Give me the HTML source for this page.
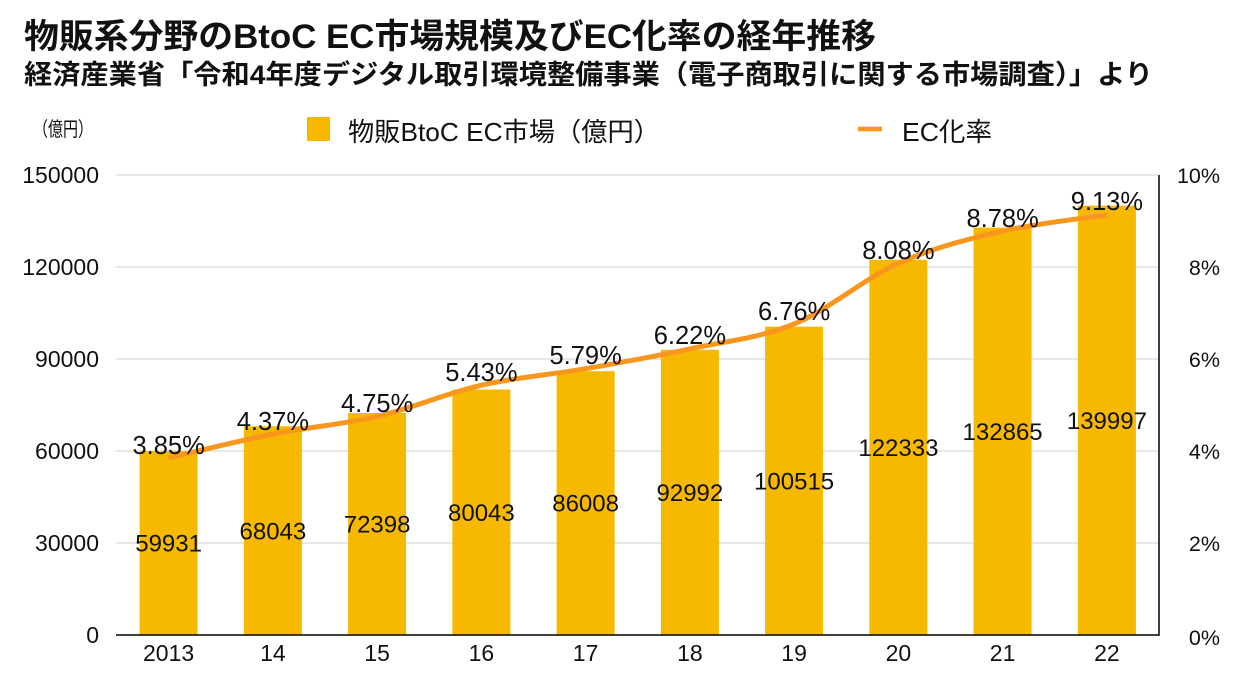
<!DOCTYPE html>
<html>
<head>
<meta charset="utf-8">
<style>
html,body{margin:0;padding:0;background:#fff;}
svg{display:block;}
text{font-family:"Liberation Sans","Noto Sans CJK JP",sans-serif;fill:#111;}
</style>
</head>
<body>
<svg width="1240" height="682" viewBox="0 0 1240 682" xmlns="http://www.w3.org/2000/svg">
<rect width="1240" height="682" fill="#fff"/>
<!-- Titles -->
<text x="24" y="48" font-size="34" font-weight="bold" textLength="852" lengthAdjust="spacingAndGlyphs">物販系分野のBtoC EC市場規模及びEC化率の経年推移</text>
<text x="24" y="84" font-size="27" font-weight="bold" textLength="1129" lengthAdjust="spacingAndGlyphs">経済産業省「令和4年度デジタル取引環境整備事業（電子商取引に関する市場調査）」より</text>

<!-- unit -->
<text x="33" y="136" font-size="20" textLength="60" lengthAdjust="spacingAndGlyphs">（億円）</text>

<!-- legend -->
<rect x="307" y="117" width="23" height="24" fill="#F6B900"/>
<text x="348" y="141" font-size="26" textLength="312" lengthAdjust="spacingAndGlyphs">物販BtoC EC市場（億円）</text>
<line x1="858" y1="129" x2="882" y2="129" stroke="#F8961E" stroke-width="4.5"/>
<text x="902" y="141" font-size="26" textLength="90" lengthAdjust="spacingAndGlyphs">EC化率</text>

<!-- gridlines -->
<g stroke="#d9d9d9" stroke-width="1.2">
<line x1="116" y1="175" x2="1159" y2="175"/>
<line x1="116" y1="267" x2="1159" y2="267"/>
<line x1="116" y1="359" x2="1159" y2="359"/>
<line x1="116" y1="451" x2="1159" y2="451"/>
<line x1="116" y1="543" x2="1159" y2="543"/>
</g>

<!-- left ticks -->
<g font-size="23" text-anchor="end">
<text x="99" y="183">150000</text>
<text x="99" y="275">120000</text>
<text x="99" y="367">90000</text>
<text x="99" y="459">60000</text>
<text x="99" y="551">30000</text>
<text x="99" y="643">0</text>
</g>
<!-- right ticks -->
<g font-size="21.5" text-anchor="end">
<text x="1220" y="183">10%</text>
<text x="1220" y="275">8%</text>
<text x="1220" y="367">6%</text>
<text x="1220" y="459">4%</text>
<text x="1220" y="551">2%</text>
<text x="1220" y="645">0%</text>
</g>

<!-- bars -->
<g fill="#F6B900">
<rect x="139.6" y="451.2" width="58" height="183.8"/>
<rect x="243.9" y="426.3" width="58" height="208.7"/>
<rect x="348.1" y="413.0" width="58" height="222.0"/>
<rect x="452.4" y="389.5" width="58" height="245.5"/>
<rect x="556.6" y="371.2" width="58" height="263.8"/>
<rect x="660.9" y="349.8" width="58" height="285.2"/>
<rect x="765.1" y="326.7" width="58" height="308.3"/>
<rect x="869.4" y="259.8" width="58" height="375.2"/>
<rect x="973.6" y="227.6" width="58" height="407.4"/>
<rect x="1077.9" y="205.7" width="58" height="429.3"/>
</g>

<!-- axes -->
<line x1="116" y1="635" x2="1159.5" y2="635" stroke="#000" stroke-width="1.5"/>
<line x1="1159" y1="175" x2="1159" y2="635.7" stroke="#000" stroke-width="1.5"/>

<!-- x labels -->
<g font-size="23" text-anchor="middle">
<text x="168.6" y="661">2013</text>
<text x="272.9" y="661">14</text>
<text x="377.1" y="661">15</text>
<text x="481.4" y="661">16</text>
<text x="585.6" y="661">17</text>
<text x="689.9" y="661">18</text>
<text x="794.1" y="661">19</text>
<text x="898.4" y="661">20</text>
<text x="1002.6" y="661">21</text>
<text x="1106.9" y="661">22</text>
</g>

<!-- value labels -->
<g font-size="24" text-anchor="middle">
<text x="168.6" y="551.7">59931</text>
<text x="272.9" y="539.3">68043</text>
<text x="377.1" y="532.6">72398</text>
<text x="481.4" y="520.9">80043</text>
<text x="585.6" y="511.7">86008</text>
<text x="689.9" y="501.0">92992</text>
<text x="794.1" y="489.5">100515</text>
<text x="898.4" y="456.0">122333</text>
<text x="1002.6" y="439.9">132865</text>
<text x="1106.9" y="428.9">139997</text>
</g>

<!-- line -->
<path d="M168.6,457.9 C186.0,453.9 238.15,440.9 272.9,434.0 C307.65,427.1 342.35,424.63 377.1,416.5 C411.85,408.37 446.65,393.17 481.4,385.2 C516.15,377.23 550.85,374.75 585.6,368.7 C620.35,362.65 655.15,356.35 689.9,348.9 C724.65,341.45 759.35,338.27 794.1,324.0 C828.85,309.73 863.65,278.78 898.4,263.3 C933.15,247.82 967.85,239.15 1002.6,231.1 C1037.35,223.05 1089.5,217.68 1106.9,215.0" fill="none" stroke="#F8961E" stroke-width="5" stroke-linecap="butt" stroke-linejoin="round"/>

<!-- percent labels -->
<g font-size="25.5" text-anchor="middle">
<text x="168.6" y="454">3.85%</text>
<text x="272.9" y="430">4.37%</text>
<text x="377.1" y="412">4.75%</text>
<text x="481.4" y="381">5.43%</text>
<text x="585.6" y="364">5.79%</text>
<text x="689.9" y="344">6.22%</text>
<text x="794.1" y="320">6.76%</text>
<text x="898.4" y="259">8.08%</text>
<text x="1002.6" y="227">8.78%</text>
<text x="1106.9" y="210">9.13%</text>
</g>
</svg>
</body>
</html>
